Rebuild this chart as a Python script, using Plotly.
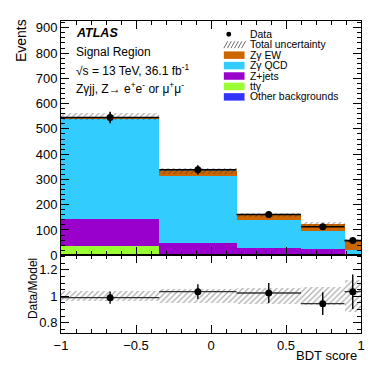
"""
BDT score distribution, Zgamma jj signal region, with data/model ratio
"""

import numpy as np
import plotly.graph_objects as go

# bins of the BDT score
edges = [-1.0, -0.345, 0.17, 0.6, 0.89, 1.0]

# stacked model, bottom to top
other_bkg = [2, 1, 1, 0.5, 0.3]
ttgamma = [33, 2, 2, 1, 0.5]
zjets = [108, 45, 25, 23, 2]
zy_qcd = [396, 266, 113, 71, 19]
zy_ew = [9, 20, 17, 27, 36]
total_unc = [14, 12, 8, 8, 6]

# data
data = [545, 338, 161, 113, 58]
data_err = [23, 18, 13, 11, 8]

# ratio panel
ratio = [0.99, 1.035, 1.025, 0.945, 1.035]
ratio_err = [0.045, 0.055, 0.075, 0.085, 0.13]
ratio_unc = [0.04, 0.05, 0.06, 0.07, 0.12]

FONT = "Liberation Sans, Arial, Helvetica, sans-serif"

edges_a = np.array(edges)
centers = (edges_a[:-1] + edges_a[1:]) / 2
widths = np.diff(edges_a)

components = [
    ("Other backgrounds", other_bkg, "#3333ff"),
    ("tt\u03b3", ttgamma, "#99ff33"),
    ("Z+jets", zjets, "#9900cc"),
    ("Z\u03b3 QCD", zy_qcd, "#33ccff"),
    ("Z\u03b3 EW", zy_ew, "#cc6600"),
]

fig = go.Figure()

# stacked histogram
base = np.zeros(len(centers))
for name, vals, col in components:
    vals = np.array(vals, dtype=float)
    fig.add_trace(go.Bar(x=centers, y=vals, base=base, width=widths,
                         marker=dict(color=col, line_width=0), opacity=1,
                         showlegend=False, xaxis="x", yaxis="y"))
    base = base + vals
total = base

# total uncertainty band
unc = np.array(total_unc, dtype=float)
fig.add_trace(go.Bar(x=centers, y=2 * unc, base=total - unc, width=widths,
                     marker=dict(color="rgba(0,0,0,0)", line_width=0,
                                 pattern=dict(shape="/", fgcolor="#333", bgcolor="rgba(0,0,0,0)",
                                              size=4, solidity=0.25, fillmode="overlay")),
                     showlegend=False, xaxis="x", yaxis="y"))

# data points
fig.add_trace(go.Scatter(x=centers, y=data, mode="markers",
                         marker=dict(color="black", size=7),
                         error_y=dict(type="data", array=data_err, color="black", thickness=1.6, width=0),
                         error_x=dict(type="data", array=widths / 2, color="black", thickness=1.6, width=0),
                         showlegend=False, xaxis="x", yaxis="y"))

# ratio panel
runc = np.array(ratio_unc, dtype=float)
fig.add_trace(go.Bar(x=centers, y=2 * runc, base=1 - runc, width=widths,
                     marker=dict(color="rgba(0,0,0,0)", line_width=0,
                                 pattern=dict(shape="/", fgcolor="#555", bgcolor="rgba(0,0,0,0)",
                                              size=4, solidity=0.3, fillmode="overlay")),
                     showlegend=False, xaxis="x2", yaxis="y2"))
fig.add_trace(go.Scatter(x=centers, y=ratio, mode="markers",
                         marker=dict(color="black", size=7),
                         error_y=dict(type="data", array=ratio_err, color="black", thickness=1.4, width=0),
                         error_x=dict(type="data", array=widths / 2, color="#333", thickness=1.4, width=0),
                         showlegend=False, xaxis="x2", yaxis="y2"))

# the page body adds an 8px margin, so the figure is drawn 8px in from the window corner
OFF = 8
W, H = 384 - 2 * OFF, 372 - 2 * OFF
# plot area in window pixels
L, R, T, B = 61, 365, 21, 338


def px_x(p):
    return (p - L) / (R - L)


def px_y(p):
    return (B - p) / (B - T)


split = px_y(259)

axis_common = dict(showline=True, linecolor="black", linewidth=1, mirror="ticks",
                   ticks="inside", tickcolor="black", ticklen=8, showgrid=False, zeroline=False,
                   tickfont=dict(family=FONT, size=13, color="black"))

fig.update_layout(
    width=W, height=H,
    margin=dict(l=L - OFF, r=W + OFF - R, t=T - OFF, b=H + OFF - B, pad=0),
    paper_bgcolor="white", plot_bgcolor="white",
    barmode="overlay", bargap=0,
    showlegend=False,
    xaxis=dict(domain=[0, 1], anchor="y", range=[-1, 1], dtick=0.5, showticklabels=False,
               minor=dict(dtick=0.1, ticklen=4, ticks="inside", tickcolor="black"), **axis_common),
    yaxis=dict(domain=[split, 1], anchor="x", range=[0, 927], dtick=100,
               minor=dict(dtick=20, ticklen=4, ticks="inside", tickcolor="black"), **axis_common),
    xaxis2=dict(domain=[0, 1], anchor="y2", range=[-1, 1], dtick=0.5, matches="x",
                minor=dict(dtick=0.1, ticklen=4, ticks="inside", tickcolor="black"), **axis_common),
    yaxis2=dict(domain=[0, split], anchor="x2", range=[0.724, 1.309], tickvals=[0.8, 1, 1.2],
                ticktext=["0.8", "1", "1.2"],
                minor=dict(dtick=0.05, ticklen=4, ticks="inside", tickcolor="black"), **axis_common),
)

annotations = []
shapes = []

# axis titles
annotations.append(dict(text="Events", textangle=-90, x=px_x(20), y=px_y(17), xref="paper", yref="paper",
                        xanchor="center", yanchor="top", showarrow=False,
                        font=dict(family=FONT, size=14, color="black")))
annotations.append(dict(text="Data/Model", textangle=-90, x=px_x(32), y=px_y(293), xref="paper", yref="paper",
                        xanchor="center", yanchor="middle", showarrow=False,
                        font=dict(family=FONT, size=12, color="black")))
annotations.append(dict(text="BDT score", x=px_x(363), y=px_y(361), xref="paper", yref="paper",
                        xanchor="right", yanchor="middle", showarrow=False,
                        font=dict(family=FONT, size=13, color="black")))

# ATLAS labels
labels = [
    ("<b><i>ATLAS</i></b>", 33, 12.5),
    ("Signal Region", 52, 12),
    ("\u221as = 13 TeV, 36.1 fb<sup>-1</sup>", 71, 12),
    ("Z\u03b3jj, Z\u2192 e<sup>+</sup>e<sup>-</sup> or \u03bc<sup>+</sup>\u03bc<sup>-</sup>", 89, 12),
]
for txt, yp, fs in labels:
    annotations.append(dict(text=txt, x=px_x(74), y=px_y(yp), xref="paper", yref="paper",
                            xanchor="left", yanchor="middle", showarrow=False,
                            font=dict(family=FONT, size=fs, color="black")))

# legend drawn by hand (compact ROOT style)
legend_items = [("Data", "data", None), ("Total uncertainty", "hatch", None)]
legend_items += [(n, "box", c) for n, _, c in reversed(components)]
y0, step = 34.5, 10.6
for i, (name, kind, col) in enumerate(legend_items):
    yc = y0 + i * step
    annotations.append(dict(text=name, x=px_x(250), y=px_y(yc), xref="paper", yref="paper",
                            xanchor="left", yanchor="middle", showarrow=False,
                            font=dict(family=FONT, size=10.4, color="black")))
    if kind == "data":
        shapes.append(dict(type="circle", xref="paper", yref="paper",
                           x0=px_x(228.5), x1=px_x(233.5), y0=px_y(yc + 2.5), y1=px_y(yc - 2.5),
                           fillcolor="black", line=dict(width=0)))
    elif kind == "hatch":
        path = ""
        for k in range(6):
            xs = 226 + k * 3.6
            path += f"M {px_x(xs)} {px_y(yc + 3.5)} L {px_x(xs + 4)} {px_y(yc - 3.5)} "
        shapes.append(dict(type="path", xref="paper", yref="paper", path=path,
                           line=dict(color="#444", width=0.8)))
    else:
        shapes.append(dict(type="rect", xref="paper", yref="paper",
                           x0=px_x(226), x1=px_x(247), y0=px_y(yc + 3.8), y1=px_y(yc - 3.8),
                           fillcolor=col, line=dict(width=0)))

fig.update_layout(annotations=annotations, shapes=shapes)

fig.write_html("out.html")
